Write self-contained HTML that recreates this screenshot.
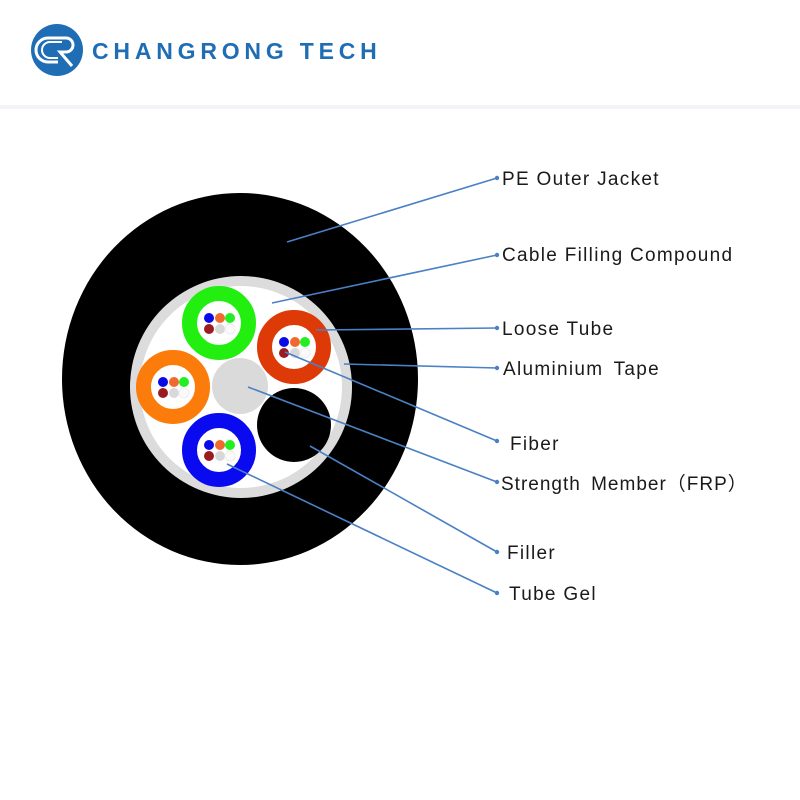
<!DOCTYPE html>
<html><head><meta charset="utf-8"><style>
html,body{margin:0;padding:0;background:#fff;width:800px;height:800px;overflow:hidden}
</style></head><body>
<svg width="800" height="800" viewBox="0 0 800 800" xmlns="http://www.w3.org/2000/svg" font-family="Liberation Sans, Arial, sans-serif">
<circle cx="57" cy="50" r="26" fill="#1f6db5"/>
<path d="M66 38 H48 a12 12 0 0 0 0 24 H58" fill="none" stroke="#fff" stroke-width="3"/>
<path d="M62 42 H50 a8 8 0 0 0 0 16 H58" fill="none" stroke="#fff" stroke-width="2"/>
<path d="M58 38 H66 a7 7 0 0 1 0 14 H60 L72 66" fill="none" stroke="#fff" stroke-width="3"/>
<text x="92" y="59" font-size="23" font-weight="bold" fill="#1f6db5" letter-spacing="4.8">CHANGRONG TECH</text>
<rect x="0" y="105" width="800" height="4" fill="#f2f4f7"/>
<ellipse cx="240" cy="379" rx="178" ry="186" fill="#000"/>
<circle cx="241" cy="387" r="111" fill="#dcdcdc"/>
<circle cx="241" cy="387" r="101" fill="#fff"/>
<circle cx="240" cy="386" r="28" fill="#dadada"/>
<circle cx="294" cy="425" r="37" fill="#000"/>
<circle cx="219" cy="323" r="29.5" fill="none" stroke="#22ee10" stroke-width="15"/>
<circle cx="294" cy="347" r="29.5" fill="none" stroke="#dd3a08" stroke-width="15"/>
<circle cx="173" cy="387" r="29.5" fill="none" stroke="#fb7c0a" stroke-width="15"/>
<circle cx="219" cy="450" r="29.5" fill="none" stroke="#0a0af0" stroke-width="15"/>
<g>
<g transform="translate(219,323)"><circle cx="-10" cy="-5" r="5" fill="#0a0ae8"/><circle cx="1" cy="-5" r="5" fill="#f06a30"/><circle cx="11" cy="-5" r="5" fill="#22ee22"/><circle cx="-10" cy="6" r="5" fill="#9b1c20"/><circle cx="1" cy="6" r="5" fill="#d8d8d8"/><circle cx="11" cy="6" r="5" fill="#fafafa" stroke="#eee"/></g>
<g transform="translate(294,347)"><circle cx="-10" cy="-5" r="5" fill="#0a0ae8"/><circle cx="1" cy="-5" r="5" fill="#f06a30"/><circle cx="11" cy="-5" r="5" fill="#22ee22"/><circle cx="-10" cy="6" r="5" fill="#9b1c20"/><circle cx="1" cy="6" r="5" fill="#d8d8d8"/><circle cx="11" cy="6" r="5" fill="#fafafa" stroke="#eee"/></g>
<g transform="translate(173,387)"><circle cx="-10" cy="-5" r="5" fill="#0a0ae8"/><circle cx="1" cy="-5" r="5" fill="#f06a30"/><circle cx="11" cy="-5" r="5" fill="#22ee22"/><circle cx="-10" cy="6" r="5" fill="#9b1c20"/><circle cx="1" cy="6" r="5" fill="#d8d8d8"/><circle cx="11" cy="6" r="5" fill="#fafafa" stroke="#eee"/></g>
<g transform="translate(219,450)"><circle cx="-10" cy="-5" r="5" fill="#0a0ae8"/><circle cx="1" cy="-5" r="5" fill="#f06a30"/><circle cx="11" cy="-5" r="5" fill="#22ee22"/><circle cx="-10" cy="6" r="5" fill="#9b1c20"/><circle cx="1" cy="6" r="5" fill="#d8d8d8"/><circle cx="11" cy="6" r="5" fill="#fafafa" stroke="#eee"/></g>
</g>
<g stroke="#4a80c4" stroke-width="1.6" fill="none">
<line x1="287" y1="242" x2="497" y2="178"/>
<line x1="272" y1="303" x2="497" y2="255"/>
<line x1="316" y1="330" x2="497" y2="328"/>
<line x1="344" y1="364" x2="497" y2="368"/>
<line x1="285" y1="352" x2="497" y2="441"/>
<line x1="248" y1="387" x2="497" y2="482"/>
<line x1="310" y1="446" x2="497" y2="552"/>
<line x1="227" y1="464" x2="497" y2="593"/>
</g>
<g fill="#4a80c4">
<circle cx="497" cy="178" r="2.2"/><circle cx="497" cy="255" r="2.2"/><circle cx="497" cy="328" r="2.2"/><circle cx="497" cy="368" r="2.2"/><circle cx="497" cy="441" r="2.2"/><circle cx="497" cy="482" r="2.2"/><circle cx="497" cy="552" r="2.2"/><circle cx="497" cy="593" r="2.2"/>
</g>
<g font-size="19" fill="#1a1a1a" letter-spacing="1.3">
<text x="502" y="185">PE Outer Jacket</text>
<text x="502" y="261">Cable Filling Compound</text>
<text x="502" y="335">Loose Tube</text>
<text x="503" y="375" word-spacing="4">Aluminium Tape</text>
<text x="510" y="450">Fiber</text>
<text x="501" y="490" word-spacing="4" letter-spacing="1">Strength Member（FRP）</text>
<text x="507" y="559">Filler</text>
<text x="509" y="600">Tube Gel</text>
</g>
</svg>
</body></html>
